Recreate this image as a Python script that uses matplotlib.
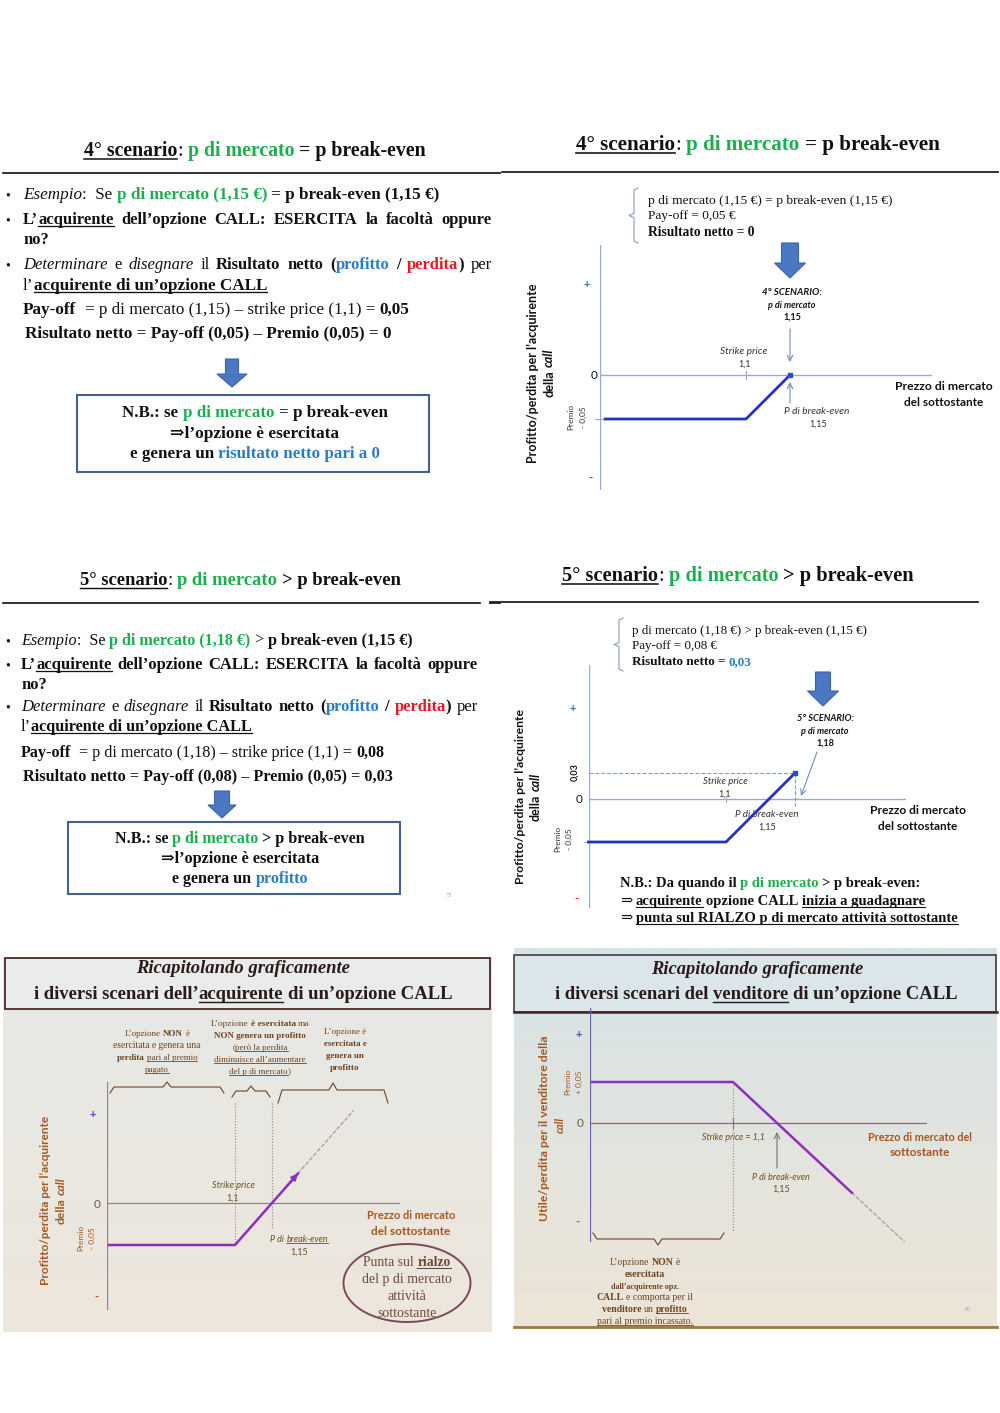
import re
import numpy as np
import matplotlib
matplotlib.use("Agg")
import matplotlib.pyplot as plt
import matplotlib.colors as mcolors
from matplotlib.patches import Rectangle, Ellipse, Polygon

# --- dati delle opzioni CALL ---
strike = 1.10
break_even = 1.15
premio = 0.05

# 4° scenario: p di mercato = p break-even
prezzi_4 = [0.94, 1.10, 1.15]
risultato_4 = [-0.05, -0.05, 0.00]
# 5° scenario: p di mercato > p break-even
prezzi_5 = [0.94, 1.10, 1.18]
risultato_5 = [-0.05, -0.05, 0.03]
# riepilogo acquirente
prezzi_acq = [0.93, 1.10, 1.185]
risultato_acq = [-0.05, -0.05, 0.035]
prezzi_acq_tratt = [1.185, 1.26]
risultato_acq_tratt = [0.035, 0.11]
# riepilogo venditore
prezzi_vend = [0.94, 1.10, 1.235]
risultato_vend = [0.05, 0.05, -0.085]
prezzi_vend_tratt = [1.235, 1.305]
risultato_vend_tratt = [-0.085, -0.155]

SERIF = ['Liberation Serif', 'DejaVu Serif']
SANS = ['Lato', 'DejaVu Sans']
plt.rcParams['font.family'] = SERIF

K = '#111111'
G = '#1fae4f'
B = '#2a7cc7'
R = '#e31b23'
LINEA = '#2233c0'
ASSE = '#9aabcf'
FRECCIA = '#4a78c2'
MARR = '#6e4420'
ARAN = '#a8561c'
VIOLA = '#8f2dbf'

W, H = 1000, 1413
fig = plt.figure(figsize=(10, 14.13), dpi=100)
ov = fig.add_axes([0, 0, 1, 1])
ov.axis('off')
ren = fig.canvas.get_renderer()


def misura(s, size, peso, stile, fam):
    t = ov.text(0, 0, s, fontsize=size, fontweight=peso, fontstyle=stile, family=fam)
    w = t.get_window_extent(renderer=ren).width
    t.remove()
    return w


def token(pezzi, size, fam, parole):
    # parole=True: una voce per parola (serve per giustificare la riga)
    out = []
    for testo, col, st in pezzi:
        peso = 'bold' if 'b' in st else 'normal'
        stile = 'italic' if 'i' in st else 'normal'
        sp = misura('a a', size, peso, stile, fam) - misura('aa', size, peso, stile, fam)
        if parole:
            pezzetti = re.split(r'( +)', testo)
        else:
            m = re.match(r'^( *)(.*?)( *)$', testo)
            pezzetti = [m.group(1), m.group(2), m.group(3)]
        for tk in pezzetti:
            if tk == '':
                continue
            if tk.strip() == '':
                out.append(['gap', tk, sp * len(tk), col, peso, stile, 'u' in st, len(tk)])
            else:
                out.append(['w', tk, misura(tk, size, peso, stile, fam), col, peso, stile, 'u' in st, 0])
    return out


def riga(x, y, pezzi, size, fam=SERIF, ha='left', larg=None, giust=False, rot=0):
    tk = token(pezzi, size, fam, giust)
    nat = sum(t[2] for t in tk)
    ngap = sum(t[7] for t in tk)
    extra = 0
    if larg is not None:
        if giust and nat <= larg and ngap:
            extra = (larg - nat) / ngap
        else:
            size = size * larg / nat
            tk = token(pezzi, size, fam, giust)
            nat = sum(t[2] for t in tk)
    tot = nat + extra * ngap
    cur = {'left': 0, 'center': -tot / 2, 'right': -tot}[ha]
    off = size * 0.2
    for kind, s, w, col, peso, stile, und, n in tk:
        if kind == 'gap':
            w = w + extra * n
        elif rot == 0:
            ov.text(x + cur, y, s, fontsize=size, fontweight=peso, fontstyle=stile,
                    family=fam, color=col, ha='left', va='baseline')
        else:
            ov.text(x, y - cur, s, fontsize=size, fontweight=peso, fontstyle=stile,
                    family=fam, color=col, ha='left', va='baseline',
                    rotation=90, rotation_mode='anchor')
        if und and rot == 0:
            ov.plot([x + cur, x + cur + w], [y + off, y + off], color=col,
                    lw=max(0.6, size / 13))
        cur += w


def pallino(x, y, size=10):
    ov.text(x, y, '•', fontsize=size, color=K, va='baseline', family=SERIF)


def freccia_blocco(cx, y0, y1, yh, wb, wh):
    pts = [(cx - wb / 2, y0), (cx + wb / 2, y0), (cx + wb / 2, yh), (cx + wh / 2, yh),
           (cx, y1), (cx - wh / 2, yh), (cx - wb / 2, yh)]
    ov.add_patch(Polygon(pts, closed=True, fc=FRECCIA, ec='#3a63a8', lw=0.8, zorder=3))


def parentesi_sx(x, y0, y1, col='#8a9cc0'):
    ym = (y0 + y1) / 2
    ov.plot([x + 4, x, x, x - 5, x, x, x + 4], [y0, y0 + 2, ym - 2, ym, ym + 2, y1 - 2, y1],
            color=col, lw=0.8)


def graffa(x0, x1, ye, yh, yt, xm=None, col=MARR):
    xm = (x0 + x1) / 2 if xm is None else xm
    r = 4
    ov.plot([x0, x0 + r, xm - r, xm, xm + r, x1 - r, x1],
            [ye, yh, yh, yt, yh, yh, ye], color=col, lw=0.8)


def sottile(x0, y0, x1, y1, col='#6f8fc0'):
    ov.annotate('', xy=(x1, y1), xytext=(x0, y0),
                arrowprops=dict(arrowstyle='->', color=col, lw=0.8, shrinkA=0, shrinkB=0))


def sfondo(x0, y0, x1, y1, c_top, c_bot):
    a = np.array(mcolors.to_rgb(c_top))
    b = np.array(mcolors.to_rgb(c_bot))
    t = np.linspace(0, 1, 64)[:, None]
    img = (a * (1 - t) + b * t)[:, None, :]
    ov.imshow(img, extent=(x0, x1, y1, y0), aspect='auto', zorder=0, interpolation='bilinear')


def assi(box, px_k, px_be, py_0, py_p, v_p):
    x0, y0, x1, y1 = box
    sx = (px_be - px_k) / (break_even - strike)
    sy = (py_0 - py_p) / v_p
    ax = fig.add_axes([x0 / W, 1 - y1 / H, (x1 - x0) / W, (y1 - y0) / H], zorder=2)
    ax.set_xlim(strike - (px_k - x0) / sx, strike + (x1 - px_k) / sx)
    ax.set_ylim(-(y1 - py_0) / sy, (py_0 - y0) / sy)
    ax.axis('off')
    return ax


# =================== 1) 4° scenario - testo ===================
riga(255, 156, [('4° scenario', K, 'bu'), (': ', K, ''), ('p di mercato', G, 'b'),
                (' = p break-even', K, 'b')], 14, ha='center', larg=344)
ov.plot([3, 500], [173, 173], color='#222222', lw=1.3)
pallino(5, 199)
riga(23, 199, [('Esempio', K, 'i'), (':  Se ', K, ''), ('p di mercato (1,15 €)', G, 'b'),
               (' = p break-even (1,15 €)', K, 'b')], 12, larg=415)
pallino(5, 224)
riga(23, 224, [('L’', K, 'b'), ('acquirente', K, 'bu'),
               (' dell’opzione CALL: ESERCITA la facoltà oppure', K, 'b')], 12, larg=469, giust=True)
riga(23, 244, [('no?', K, 'b')], 12)
pallino(5, 269)
riga(23, 269, [('Determinare', K, 'i'), (' e ', K, ''), ('disegnare', K, 'i'), (' il ', K, ''),
               ('Risultato netto (', K, 'b'), ('profitto', B, 'b'), (' / ', K, 'b'),
               ('perdita', R, 'b'), (')', K, 'b'), (' per', K, '')], 12, larg=469, giust=True)
riga(23, 290, [('l’', K, ''), ('acquirente di un’opzione CALL', K, 'bu')], 12, larg=243)
riga(23, 314, [('Pay-off', K, 'b'), ('  = p di mercato (1,15) – strike price (1,1) = ', K, ''),
               ('0,05', K, 'b')], 12, larg=385)
riga(25, 338, [('Risultato netto = Pay-off (0,05) – Premio (0,05) = 0', K, 'b')], 12, larg=367)
freccia_blocco(232, 359, 387, 374, 13, 30)
ov.add_patch(Rectangle((77, 395), 352, 77, fill=False, ec='#41628f', lw=1.5))
riga(255, 417, [('N.B.: se ', K, 'b'), ('p di mercato', G, 'b'), (' = p break-even', K, 'b')],
     11.5, ha='center', larg=266)
riga(255, 438, [('⇒l’opzione è esercitata', K, 'b')], 11.5, ha='center', larg=169)
riga(255, 458, [('e genera un ', K, 'b'), ('risultato netto pari a 0', B, 'b')],
     11.5, ha='center', larg=252)

# =================== 2) 4° scenario - grafico ===================
riga(758, 150, [('4° scenario', K, 'bu'), (': ', K, ''), ('p di mercato', G, 'b'),
                (' = p break-even', K, 'b')], 14, ha='center', larg=364)
ov.plot([502, 998], [172, 172], color='#222222', lw=1.3)
parentesi_sx(634, 188, 243)
riga(648, 204, [('p di mercato (1,15 €) = p break-even (1,15 €)', K, '')], 9.5, larg=246)
riga(648, 219, [('Pay-off = 0,05 €', K, '')], 9.5, larg=88)
riga(648, 236, [('Risultato netto = 0', K, 'b')], 9.5, larg=107)
freccia_blocco(790, 243, 278, 263, 17, 31)
riga(792, 295, [('4° SCENARIO:', K, 'bi')], 6.5, fam=SANS, ha='center', larg=60)
riga(792, 308, [('p di mercato', K, 'bi')], 6.5, fam=SANS, ha='center')
riga(792, 320, [('1,15', K, 'b')], 6.5, fam=SANS, ha='center')
sottile(790, 329, 790, 362)
sottile(790, 403, 790, 382)
riga(744, 354, [('Strike price', '#333333', 'i')], 6.5, fam=SANS, ha='center', larg=47)
riga(745, 367, [('1,1', '#333333', '')], 6.5, fam=SANS, ha='center')
riga(817, 414, [('P di break-even', '#333333', 'i')], 6.5, fam=SANS, ha='center', larg=65)
riga(818, 427, [('1,15', '#333333', '')], 6.5, fam=SANS, ha='center')
riga(944, 390, [('Prezzo di mercato', K, 'b')], 8.5, fam=SANS, ha='center', larg=98)
riga(944, 406, [('del sottostante', K, 'b')], 8.5, fam=SANS, ha='center')
riga(537, 373, [('Profitto/perdita per l’acquirente', K, 'b')], 8, fam=SANS, ha='center',
     larg=180, rot=90)
riga(553, 373, [('della ', K, 'b'), ('call', K, 'bi')], 8, fam=SANS, ha='center', larg=49, rot=90)
riga(573, 417, [('Premio', '#333333', '')], 6, fam=SANS, ha='center', rot=90)
riga(586, 417, [('- 0,05', '#333333', '')], 6, fam=SANS, ha='center', rot=90)
riga(587, 288, [('+', '#2e75b6', 'b')], 8, fam=SANS, ha='center')
riga(590, 482, [('-', R, 'b')], 8, fam=SANS, ha='center')
riga(594, 379, [('0', K, '')], 8.5, fam=SANS, ha='center')

ax2 = assi((600, 245, 932, 490), 746, 790, 375, 419, -premio)
ax2.axhline(0, color=ASSE, lw=1)
ax2.axvline(ax2.get_xlim()[0], color=ASSE, lw=1)
ax2.plot([strike, strike], [-0.004, 0.004], color=ASSE, lw=0.8, clip_on=False)
ax2.plot([ax2.get_xlim()[0] - 0.006, ax2.get_xlim()[0] + 0.004], [-premio, -premio],
         color=ASSE, lw=0.8, clip_on=False)
ax2.plot(prezzi_4, risultato_4, color=LINEA, lw=2, clip_on=False)
ax2.plot([prezzi_4[-1]], [risultato_4[-1]], 's', color='#2a4fc0', ms=3.5, clip_on=False)

# =================== 3) 5° scenario - testo ===================
riga(240, 585, [('5° scenario', K, 'bu'), (': ', K, ''), ('p di mercato', G, 'b'),
                (' > p break-even', K, 'b')], 14, ha='center', larg=323)
ov.plot([3, 480], [603, 603], color='#222222', lw=1.3)
ov.plot([490, 500], [603, 603], color='#222222', lw=1.3)
pallino(5, 645)
riga(21, 645, [('Esempio', K, 'i'), (':  Se ', K, ''), ('p di mercato (1,18 €)', G, 'b'),
               (' > ', K, ''), ('p break-even (1,15 €)', K, 'b')], 12, larg=392)
pallino(5, 669)
riga(21, 669, [('L’', K, 'b'), ('acquirente', K, 'bu'),
               (' dell’opzione CALL: ESERCITA la facoltà oppure', K, 'b')], 12, larg=457, giust=True)
riga(21, 689, [('no?', K, 'b')], 12)
pallino(5, 711)
riga(21, 711, [('Determinare', K, 'i'), (' e ', K, ''), ('disegnare', K, 'i'), (' il ', K, ''),
               ('Risultato netto (', K, 'b'), ('profitto', B, 'b'), (' / ', K, 'b'),
               ('perdita', R, 'b'), (')', K, 'b'), (' per', K, '')], 12, larg=457, giust=True)
riga(21, 731, [('l’', K, ''), ('acquirente di un’opzione CALL', K, 'bu')], 12, larg=229)
riga(21, 757, [('Pay-off', K, 'b'), ('  = p di mercato (1,18) – strike price (1,1) = ', K, ''),
               ('0,08', K, 'b')], 12, larg=364)
riga(23, 781, [('Risultato netto = Pay-off (0,08) – Premio (0,05) = 0,03', K, 'b')], 12, larg=366)
freccia_blocco(222, 791, 818, 805, 15, 28)
ov.add_patch(Rectangle((68, 822), 332, 72, fill=False, ec='#41628f', lw=1.5))
riga(240, 843, [('N.B.: se ', K, 'b'), ('p di mercato', G, 'b'), (' > p break-even', K, 'b')],
     11.5, ha='center', larg=251)
riga(240, 863, [('⇒l’opzione è esercitata', K, 'b')], 11.5, ha='center', larg=158)
riga(240, 883, [('e genera un ', K, 'b'), ('profitto', B, 'b')], 11.5, ha='center', larg=137)
ov.text(449, 897, '73', fontsize=4.5, color='#999999', ha='center', va='baseline')

# =================== 4) 5° scenario - grafico ===================
riga(738, 581, [('5° scenario', K, 'bu'), (': ', K, ''), ('p di mercato', G, 'b'),
                (' > p break-even', K, 'b')], 14, ha='center', larg=352)
ov.plot([490, 978], [602, 602], color='#222222', lw=1.3)
parentesi_sx(619, 618, 671)
riga(632, 634, [('p di mercato (1,18 €) > p break-even (1,15 €)', K, '')], 9.5, larg=238)
riga(632, 649, [('Pay-off = 0,08 €', K, '')], 9.5, larg=86)
riga(632, 665, [('Risultato netto = ', K, 'b'), ('0,03', B, 'b')], 9.5, larg=120)
freccia_blocco(823, 672, 706, 691, 15, 31)
riga(825, 721, [('5° SCENARIO:', K, 'bi')], 6.5, fam=SANS, ha='center', larg=57)
riga(825, 734, [('p di mercato', K, 'bi')], 6.5, fam=SANS, ha='center')
riga(825, 746, [('1,18', K, 'b')], 6.5, fam=SANS, ha='center')
sottile(817, 752, 801, 796)
riga(725, 784, [('Strike price', '#333333', 'i')], 6.5, fam=SANS, ha='center', larg=45)
riga(725, 797, [('1,1', '#333333', '')], 6.5, fam=SANS, ha='center')
riga(767, 817, [('P di break-even', '#333333', 'i')], 6.5, fam=SANS, ha='center', larg=63)
riga(767, 830, [('1,15', '#333333', '')], 6.5, fam=SANS, ha='center')
riga(918, 814, [('Prezzo di mercato', K, 'b')], 8.5, fam=SANS, ha='center', larg=96)
riga(918, 830, [('del sottostante', K, 'b')], 8.5, fam=SANS, ha='center')
riga(524, 797, [('Profitto/perdita per l’acquirente', K, 'b')], 8, fam=SANS, ha='center',
     larg=176, rot=90)
riga(540, 797, [('della ', K, 'b'), ('call', K, 'bi')], 8, fam=SANS, ha='center', larg=48, rot=90)
riga(560, 839, [('Premio', '#333333', '')], 6, fam=SANS, ha='center', rot=90)
riga(572, 839, [('- 0,05', '#333333', '')], 6, fam=SANS, ha='center', rot=90)
riga(577, 772, [('0,03', K, 'b')], 6.5, fam=SANS, ha='center', rot=90)
riga(573, 712, [('+', '#2e75b6', 'b')], 8, fam=SANS, ha='center')
riga(576, 903, [('-', R, 'b')], 8, fam=SANS, ha='center')
riga(579, 803, [('0', K, '')], 8.5, fam=SANS, ha='center')
riga(620, 887, [('N.B.: Da quando il ', K, 'b'), ('p di mercato', G, 'b'),
                (' > p break-even:', K, 'b')], 10, larg=301)
riga(620, 905, [('⇒ ', K, ''), ('acquirente', K, 'bu'), (' opzione CALL ', K, 'b'),
                ('inizia a guadagnare', K, 'bu')], 10, larg=306)
riga(620, 922, [('⇒ ', K, ''), ('punta sul RIALZO p di mercato attività sottostante', K, 'bu')],
     10, larg=339)

ax4 = assi((589, 665, 906, 908), 726, 769, 799, 842, -premio)
ax4.axhline(0, color=ASSE, lw=1)
ax4.axvline(ax4.get_xlim()[0], color=ASSE, lw=1)
ax4.plot([strike, strike], [-0.004, 0.004], color=ASSE, lw=0.8, clip_on=False)
ax4.plot([ax4.get_xlim()[0] - 0.006, ax4.get_xlim()[0] + 0.004], [-premio, -premio],
         color=ASSE, lw=0.8, clip_on=False)
ax4.plot([ax4.get_xlim()[0], prezzi_5[-1]], [risultato_5[-1], risultato_5[-1]],
         color='#7f9fcf', lw=0.8, ls='--')
ax4.plot([prezzi_5[-1], prezzi_5[-1]], [risultato_5[-1], -0.008], color='#7f9fcf', lw=0.8, ls='--')
ax4.plot(prezzi_5, risultato_5, color=LINEA, lw=2, clip_on=False)
ax4.plot([prezzi_5[-1]], [risultato_5[-1]], 's', color='#2a4fc0', ms=3.5, clip_on=False)

# =================== 5) riepilogo acquirente (foto) ===================
sfondo(3, 958, 492, 1332, '#e6e9e6', '#ede6dc')
ov.add_patch(Rectangle((5, 958), 485, 51, fc='#e9ecea', ec='#4a2a25', lw=1.3, zorder=1))
riga(243, 973, [('Ricapitolando graficamente', '#2a1a1a', 'bi')], 13, ha='center', larg=213)
riga(243, 999, [('i diversi scenari dell’', '#2a1a1a', 'b'), ('acquirente', '#2a1a1a', 'bu'),
                (' di un’opzione CALL', '#2a1a1a', 'b')], 13, ha='center', larg=418)
riga(157, 1036, [('L’opzione ', MARR, ''), ('NON', MARR, 'b'), (' è', MARR, '')], 6.5, ha='center')
riga(157, 1048, [('esercitata e genera una', MARR, '')], 6.5, ha='center', larg=88)
riga(157, 1060, [('perdita', MARR, 'b'), (' ', MARR, ''), ('pari al premio', MARR, 'u')],
     6.5, ha='center')
riga(157, 1072, [('pagato', MARR, 'u')], 6.5, ha='center')
riga(260, 1026, [('L’opzione ', MARR, ''), ('è esercitata', MARR, 'b'), (' ma', MARR, '')],
     6.5, ha='center', larg=98)
riga(260, 1038, [('NON genera un profitto', MARR, 'b')], 6.5, ha='center')
riga(260, 1050, [('(', MARR, ''), ('però la perdita', MARR, 'u')], 6.5, ha='center')
riga(260, 1062, [('diminuisce all’aumentare', MARR, 'u')], 6.5, ha='center')
riga(260, 1074, [('del p di mercato', MARR, 'u'), (')', MARR, '')], 6.5, ha='center')
riga(345, 1034, [('L’opzione è', MARR, '')], 6.5, ha='center')
riga(345, 1046, [('esercitata e', MARR, 'b')], 6.5, ha='center')
riga(345, 1058, [('genera un', MARR, 'b')], 6.5, ha='center')
riga(345, 1070, [('profitto', MARR, 'b')], 6.5, ha='center')
graffa(110, 224, 1093, 1087, 1082, xm=167)
graffa(232, 270, 1097, 1091, 1086, xm=251)
graffa(278, 388, 1103, 1090, 1083, xm=333)
riga(233, 1188, [('Strike price', '#6b5020', 'i')], 6.5, fam=SANS, ha='center', larg=43)
riga(233, 1201, [('1,1', '#6b5020', '')], 6.5, fam=SANS, ha='center')
riga(299, 1242, [('P di ', '#6b5020', 'i'), ('break-even', '#6b5020', 'iu')], 6.5, fam=SANS,
     ha='center', larg=58)
riga(299, 1255, [('1,15', '#6b5020', '')], 6.5, fam=SANS, ha='center')
riga(411, 1219, [('Prezzo di mercato', ARAN, 'b')], 8.5, fam=SANS, ha='center', larg=88)
riga(411, 1235, [('del sottostante', ARAN, 'b')], 8.5, fam=SANS, ha='center')
riga(49, 1200, [('Profitto/perdita per l’acquirente', ARAN, 'b')], 8, fam=SANS, ha='center',
     larg=170, rot=90)
riga(65, 1201, [('della ', ARAN, 'b'), ('call', ARAN, 'bi')], 8, fam=SANS, ha='center',
     larg=47, rot=90)
riga(83, 1238, [('Premio', ARAN, '')], 6, fam=SANS, ha='center', rot=90)
riga(95, 1238, [('- 0,05', ARAN, '')], 6, fam=SANS, ha='center', rot=90)
riga(93, 1118, [('+', '#6a3fa0', 'b')], 8, fam=SANS, ha='center')
riga(96, 1301, [('-', '#d0502a', 'b')], 8, fam=SANS, ha='center')
riga(97, 1208, [('0', '#6b5a50', '')], 8.5, fam=SANS, ha='center')
ov.add_patch(Ellipse((407, 1283), 127, 78, fill=False, ec='#7a4a5a', lw=1.4))
MAT = '#6b4a3a'
riga(407, 1266, [('Punta sul ', MAT, ''), ('rialzo', MAT, 'bu')], 10, ha='center', larg=87)
riga(407, 1283, [('del p di mercato', MAT, '')], 10, ha='center')
riga(407, 1300, [('attività', MAT, '')], 10, ha='center')
riga(407, 1317, [('sottostante', MAT, '')], 10, ha='center')

ax5 = assi((107, 1082, 400, 1310), 235, 272, 1203, 1245, -premio)
ax5.axhline(0, color='#8c8488', lw=0.9)
ax5.axvline(ax5.get_xlim()[0], color='#8c8488', lw=0.9)
ax5.plot([strike, strike], [0.119, -premio], color='#a08070', lw=0.8, ls=':')
ax5.plot([break_even, break_even], [0.119, -0.03], color='#a08070', lw=0.8, ls=':')
ax5.plot(prezzi_acq_tratt, risultato_acq_tratt, color='#a09090', lw=0.8, ls='--')
ax5.plot(prezzi_acq, risultato_acq, color=VIOLA, lw=1.8, clip_on=False)
ax5.annotate('', xy=(prezzi_acq[-1], risultato_acq[-1]), xytext=(1.17, 0.02),
             arrowprops=dict(arrowstyle='-|>', color=VIOLA, lw=1.5, shrinkA=0, shrinkB=0,
                             mutation_scale=9))

# =================== 6) riepilogo venditore (foto) ===================
sfondo(514, 948, 997, 1328, '#d6e3e7', '#ede5d7')
ov.add_patch(Rectangle((514, 955), 482, 57, fc='#dae6ea', ec='#4a3a3a', lw=1.2, zorder=1))
ov.plot([514, 997], [1012, 1012], color='#3a2a2a', lw=1.8)
ov.plot([514, 997], [1327, 1327], color='#a0783c', lw=2)
riga(757, 974, [('Ricapitolando graficamente', '#2a1a1a', 'bi')], 13, ha='center', larg=212)
riga(756, 999, [('i diversi scenari del ', '#2a1a1a', 'b'), ('venditore', '#2a1a1a', 'bu'),
                (' di un’opzione CALL', '#2a1a1a', 'b')], 13, ha='center', larg=402)
riga(548, 1128, [('Utile/perdita per il venditore della', ARAN, 'b')], 8, fam=SANS,
     ha='center', larg=187, rot=90)
riga(564, 1125, [('call', ARAN, 'bi')], 8, fam=SANS, ha='center', rot=90)
riga(570, 1082, [('Premio', ARAN, '')], 6, fam=SANS, ha='center', rot=90)
riga(582, 1082, [('+ 0,05', ARAN, '')], 6, fam=SANS, ha='center', rot=90)
riga(579, 1038, [('+', '#6a3fa0', 'b')], 8, fam=SANS, ha='center')
riga(577, 1226, [('-', '#8a6a5a', 'b')], 8, fam=SANS, ha='center')
riga(580, 1127, [('0', '#6b5a50', '')], 8.5, fam=SANS, ha='center')
riga(733, 1140, [('Strike price = 1,1', '#6b5020', 'i')], 6.5, fam=SANS, ha='center', larg=63)
sottile(777, 1168, 777, 1132, col='#7a7070')
riga(781, 1180, [('P di break-even', '#6b5020', 'i')], 6.5, fam=SANS, ha='center', larg=58)
riga(781, 1192, [('1,15', '#6b5020', '')], 6.5, fam=SANS, ha='center')
riga(920, 1141, [('Prezzo di mercato del', ARAN, 'b')], 8.5, fam=SANS, ha='center', larg=104)
riga(920, 1156, [('sottostante', ARAN, 'b')], 8.5, fam=SANS, ha='center')
graffa(593, 724, 1233, 1239, 1245, xm=658)
riga(645, 1265, [('L’opzione ', MARR, ''), ('NON', MARR, 'b'), (' è', MARR, '')], 7, ha='center')
riga(645, 1277, [('esercitata', MARR, 'b')], 7, ha='center')
riga(645, 1289, [('dall’acquirente opz.', MARR, 'b')], 7, ha='center', larg=69)
riga(645, 1300, [('CALL', MARR, 'b'), (' e comporta per il', MARR, '')], 7, ha='center')
riga(645, 1312, [('venditore', MARR, 'b'), (' un ', MARR, ''), ('profitto', MARR, 'bu')],
     7, ha='center')
riga(645, 1324, [('pari al premio incassato.', MARR, 'u')], 7, ha='center')
ov.text(968, 1311, '86', fontsize=4.5, color='#aaaaaa', ha='center', va='baseline')

ax6 = assi((590, 1008, 927, 1242), 733, 777, 1123, 1082, premio)
ax6.axhline(0, color='#8a6a7a', lw=0.9)
ax6.axvline(ax6.get_xlim()[0], color='#7060a0', lw=0.9)
ax6.plot([strike, strike], [premio, -0.133], color='#a08070', lw=0.8, ls=':')
ax6.plot([strike, strike], [-0.006, 0.006], color='#8a6a7a', lw=0.8)
ax6.plot(prezzi_vend_tratt, risultato_vend_tratt, color='#a09090', lw=0.8, ls='--')
ax6.plot(prezzi_vend, risultato_vend, color=VIOLA, lw=1.8, clip_on=False)

ov.set_xlim(0, W)
ov.set_ylim(H, 0)
fig.savefig('out.png', dpi=100)
